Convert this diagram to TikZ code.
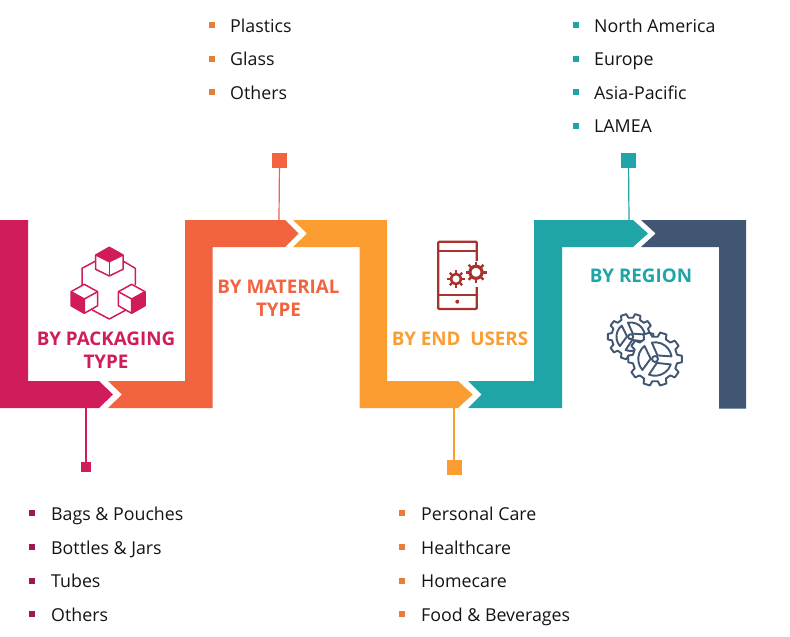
\documentclass[tikz,border=0pt]{standalone}
\usepackage{fontspec}
\setmainfont{Open Sans}
\usepackage{xcolor}
\definecolor{crimson}{HTML}{D01C5A}
\definecolor{coral}{HTML}{F2633F}
\definecolor{amber}{HTML}{FB9D31}
\definecolor{tealc}{HTML}{1FA5A8}
\definecolor{navy}{HTML}{405673}
\definecolor{berry}{HTML}{9C1B57}
\definecolor{brick}{HTML}{A8322D}
\definecolor{ink}{HTML}{141414}
\definecolor{tangerine}{HTML}{EA7B38}
\tikzset{
  listitem/.style={anchor=base west,inner sep=0pt,text=ink,font=\fontsize{17.8}{20}\selectfont},
  bulletbox/.style={inner sep=0pt,minimum size=6pt},
  stembox/.style={inner sep=0pt,minimum size=15pt},
  heading/.style={inner sep=0pt,font=\fontsize{18.8}{21}\selectfont\bfseries},
}
% cogwheel with three windows: x, y, radius
\newcommand{\cogicon}[3]{
  \begin{scope}[shift={(#1,#2)},x=1pt,y=1pt,line width=1.9pt,draw=navy,line join=round]
    \draw[fill=white] (-11:#3*.83) \foreach \a in {0,36,...,324} {
      -- ({\a-11}:#3*.83) -- ({\a-7}:#3) -- ({\a+7}:#3) -- ({\a+11}:#3*.83) } -- cycle;
    \foreach \a in {-5,115,235}
      \draw ({\a+14}:#3*.62) arc ({\a+14}:{\a+106}:#3*.62) -- ({\a+60}:#3*.16) -- cycle;
    \draw (0,0) circle (#3*.11);
  \end{scope}
}
% solid little gear for the phone: x, y, radius
\newcommand{\sprocket}[3]{
  \begin{scope}[shift={(#1,#2)},x=1pt,y=1pt,draw=brick]
    \draw[line width=#3*.3pt] (0,0) circle (#3*.58);
    \foreach \a in {0,45,...,315}
      \draw[line width=2.4pt] (\a:#3*.6) -- (\a:#3);
  \end{scope}
}
\begin{document}
\begin{tikzpicture}[x=1pt,y=-1pt]
  \useasboundingbox (0,0) rectangle (790,637);
  \fill[white] (0,0) rectangle (790,637);
  % ribbon
  \fill[crimson] (0,220) -- (28,220) -- (28,381) -- (99,381) -- (113,394.5) -- (99,408) -- (0,408) -- cycle;
  \fill[coral] (108,381) -- (185,381) -- (185,220) -- (285,220) -- (298.5,233.5) -- (285,247) -- (212.7,247) -- (212.7,408) -- (108,408) -- (122,394.5) -- cycle;
  \fill[amber] (293,220) -- (387,220) -- (387,381) -- (458,381) -- (472.7,394.5) -- (458,408) -- (359.5,408) -- (359.5,247) -- (293,247) -- (307,233.5) -- cycle;
  \fill[tealc] (468,381) -- (534,381) -- (534,220) -- (633,220) -- (648,233.5) -- (633,247) -- (562,247) -- (562,408) -- (468,408) -- (481.7,394.5) -- cycle;
  \fill[navy] (641,220) -- (746,220) -- (746,408.5) -- (719,408.5) -- (719,247) -- (641,247) -- (655.7,233.5) -- cycle;
  % stems
  \coordinate (packfoot) at (86,408);
  \coordinate (matfoot) at (279,220);
  \coordinate (userfoot) at (454,408);
  \coordinate (regfoot) at (629,220);
  \node[stembox,fill=crimson,minimum size=10.5pt] (packstem) at (86,467) {};
  \node[stembox,fill=coral] (matstem) at (279.5,160) {};
  \node[stembox,fill=amber] (userstem) at (454,467.5) {};
  \node[stembox,fill=tealc] (regstem) at (628.5,160) {};
  \draw[crimson,line width=1.2pt] (packfoot) -- (packstem);
  \draw[coral,line width=1.2pt] (matfoot) -- (matstem);
  \draw[amber,line width=1.2pt] (userfoot) -- (userstem);
  \draw[tealc,line width=1.2pt] (regfoot) -- (regstem);
  % headings
  \node[heading,text=crimson,align=center] (packhead) at (106,350.5) {BY PACKAGING\\[2pt]TYPE};
  \node[heading,text=coral,align=center] (mathead) at (278.5,298.5) {BY MATERIAL\\[2pt]TYPE};
  \node[heading,text=amber] (userhead) at (460,339) {BY END\ \ USERS};
  \node[heading,text=tealc] (reghead) at (641,276) {BY REGION};
  % lists
  \foreach \Num/\Ypos/\Item in {1/513/Bags \& Pouches, 2/547/Bottles \& Jars, 3/580.5/Tubes, 4/614/Others} {
    \node[bulletbox,fill=berry] (packb\Num) at (32,\Ypos) {};
    \node[listitem] (packi\Num) at (51,\Ypos+7) {\Item};
  }
  \foreach \Num/\Ypos/\Item in {1/25/Plastics, 2/58.5/Glass, 3/92/Others} {
    \node[bulletbox,fill=tangerine] (matb\Num) at (212,\Ypos) {};
    \node[listitem] (mati\Num) at (230,\Ypos+7) {\Item};
  }
  \foreach \Num/\Ypos/\Item in {1/513/Personal Care, 2/547/Healthcare, 3/580.5/Homecare, 4/614/Food \& Beverages} {
    \node[bulletbox,fill=tangerine] (userb\Num) at (402,\Ypos) {};
    \node[listitem] (useri\Num) at (421,\Ypos+7) {\Item};
  }
  \foreach \Num/\Ypos/\Item in {1/25/North America, 2/58.5/Europe, 3/92/Asia-Pacific, 4/125.5/LAMEA} {
    \node[bulletbox,fill=tealc] (regb\Num) at (576,\Ypos) {};
    \node[listitem] (regi\Num) at (594,\Ypos+7) {\Item};
  }
  % cubes icon
  \begin{scope}[draw=crimson,fill=crimson,line width=1.5pt,line join=round]
    \draw (95.7,261) -- (82,268.3) -- (82,285);
    \draw (123,261) -- (135.3,268.3) -- (135.3,285);
    \draw (92.3,310) -- (109.3,319) -- (126,310);
    \filldraw (109.3,247.3) -- (123,255) -- (109.3,261.7) -- (95.7,255) -- cycle;
    \draw (95.7,255) -- (95.7,269.3) -- (109.3,276) -- (123,269.3) -- (123,255);
    \draw (109.3,261.7) -- (109.3,276);
    \filldraw (71,291.7) -- (84.3,299) -- (84.3,313.3) -- (71,305.7) -- cycle;
    \draw (71,291.7) -- (84.3,284.3) -- (97.7,291.7) -- (97.7,305.7) -- (84.3,313.3);
    \draw (84.3,299) -- (97.7,291.7);
    \filldraw (145,291.7) -- (131.7,299) -- (131.7,313.3) -- (145,305.7) -- cycle;
    \draw (145,291.7) -- (131.7,284.3) -- (118.3,291.7) -- (118.3,305.7) -- (131.7,313.3);
    \draw (131.7,299) -- (118.3,291.7);
  \end{scope}
  % phone icon
  \draw[brick,line width=2.2pt,rounded corners=1pt] (476.7,261) -- (476.7,241.7) -- (438.3,241.7) -- (438.3,309) -- (476.7,309) -- (476.7,287);
  \draw[brick,line width=2.2pt] (438.3,250.7) -- (476.7,250.7);
  \draw[brick,line width=2.2pt] (438.3,295) -- (476.7,295);
  \fill[brick] (457.3,301.7) circle (2);
  \sprocket{476}{272.3}{10.5}
  \sprocket{456}{279}{8.7}
  % cogs icon
  \cogicon{630.7}{336.7}{23}
  \cogicon{655}{359}{27}
\end{tikzpicture}
\end{document}
